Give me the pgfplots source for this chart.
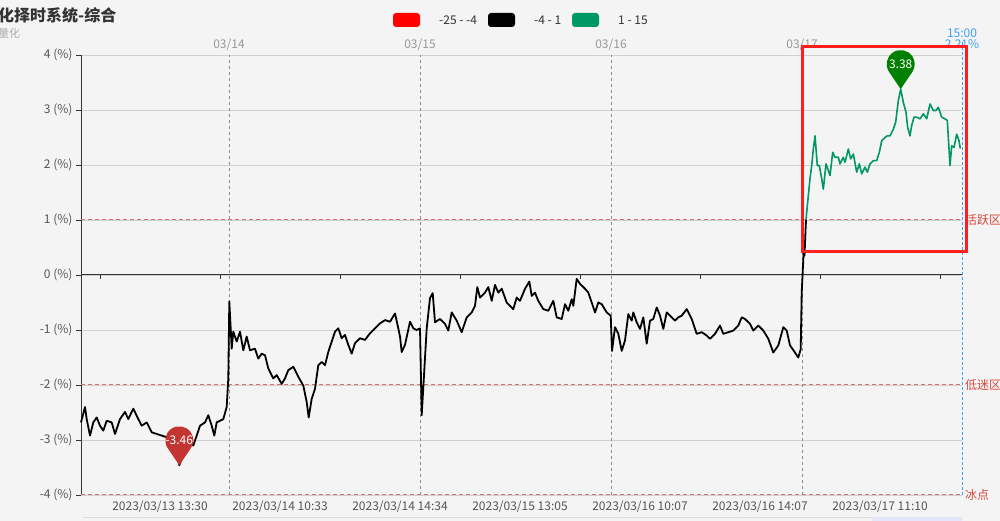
\documentclass[border=0pt]{standalone}
\usepackage{fontspec}
\setmainfont{Noto Sans CJK SC}
\usepackage{pgfplots}
\pgfplotsset{compat=1.18}
\definecolor{bg}{RGB}{244,244,244}
\definecolor{gridc}{RGB}{208,208,208}
\definecolor{axisc}{RGB}{51,51,51}
\definecolor{ticklab}{RGB}{85,85,85}
\definecolor{daylab}{RGB}{153,153,153}
\definecolor{dayline}{RGB}{140,140,140}
\definecolor{mline}{RGB}{222,110,110}
\definecolor{mtext}{RGB}{214,72,62}
\definecolor{greenline}{RGB}{0,150,102}
\definecolor{legendgreen}{RGB}{0,153,102}
\definecolor{pinred}{RGB}{194,53,49}
\definecolor{pingreen}{RGB}{0,128,0}
\definecolor{blueptr}{RGB}{64,158,255}
\definecolor{boxred}{RGB}{255,30,30}
\newcommand\fs[1]{\fontsize{#1}{#1}\selectfont}
\pgfdeclareplotmark{pin}{%
  \pgfpathmoveto{\pgfpointorigin}%
  \pgfpathlineto{\pgfpoint{-11.6pt}{17.15pt}}%
  \pgfpatharc{214.1}{-34.1}{14pt}%
  \pgfpathclose
  \pgfusepath{fill}}
\begin{document}
\begin{tikzpicture}[x=1pt,y=1pt]
\clip (0,0) rectangle (1000,521);
\fill[bg] (0,0) rectangle (1000,521);
% title
\node[anchor=base west, inner sep=0, text=axisc, font=\bfseries\fs{16}] at (-2,499) {化择时系统-综合};
\node[anchor=base west, inner sep=0, text=daylab!80, font=\fs{11}] at (-2,483) {量化};
% legend
\fill[red, rounded corners=3] (393,494) rectangle (420,508);
\node[anchor=west, inner sep=0, text=axisc, font=\fs{12}] at (439,501) {-25 - -4};
\fill[black, rounded corners=3] (488,494) rectangle (515,508);
\node[anchor=west, inner sep=0, text=axisc, font=\fs{12}] at (534,501) {-4 - 1};
\fill[legendgreen, rounded corners=3] (572,494) rectangle (599,508);
\node[anchor=west, inner sep=0, text=axisc, font=\fs{12}] at (618,501) {1 - 15};
% slider hint
\draw[gridc!70, line width=0.8] (83,4) -- (962,4);
\fill[gridc!60!blue!20] (872,0) rectangle (962,3.6);
\begin{axis}[
  at={(81pt,26pt)}, anchor=south west, scale only axis,
  width=881pt, height=440pt,
  xmin=81, xmax=962, ymin=-4, ymax=4,
  axis x line=none, axis y line*=left,
  y axis line style={-, draw=axisc, line width=1pt},
  ytick={-4,-3,-2,-1,0,1,2,3,4},
  yticklabels={-4 (\%),-3 (\%),-2 (\%),-1 (\%),0 (\%),1 (\%),2 (\%),3 (\%),4 (\%)},
  yticklabel style={font=\fs{12}, text=ticklab},
  ytick style={draw=axisc, line width=0.8pt},
  tick align=outside, major tick length=5pt, ytick pos=left,
  ymajorgrids, grid style={draw=gridc, line width=0.8pt},
  clip=false,
]
% day separators
\pgfplotsinvokeforeach{229,420,611,802}{
  \draw[dayline, dash pattern=on 3pt off 3pt, line width=0.8pt] (axis cs:#1,-4) -- (axis cs:#1,4);
}
% mark lines
\draw[mline, dash pattern=on 4pt off 3pt, line width=1pt] (axis cs:81,1) -- (axis cs:962,1);
\draw[mline, dash pattern=on 4pt off 3pt, line width=1pt] (axis cs:81,-2) -- (axis cs:962,-2);
\draw[mline, dash pattern=on 4pt off 3pt, line width=1pt] (axis cs:81,-4) -- (axis cs:962,-4);
\node[anchor=west, inner sep=0, text=mtext, font=\fs{12}] at (axis cs:965,1) {活跃区};
\node[anchor=west, inner sep=0, text=mtext, font=\fs{12}] at (axis cs:965,-2) {低迷区};
\node[anchor=west, inner sep=0, text=mtext, font=\fs{12}] at (axis cs:965,-4) {冰点};
% zero axis
\draw[axisc, line width=1pt] (axis cs:81,0) -- (axis cs:962,0);
\pgfplotsinvokeforeach{100,220,340,460,580,700,820,940}{
  \draw[axisc, line width=0.8pt] (axis cs:#1,0) -- ([yshift=-4.5pt]axis cs:#1,0);
}
% top day labels
\node[text=daylab, font=\fs{12}, inner sep=0] at (axis cs:229,4) [yshift=10pt] {03/14};
\node[text=daylab, font=\fs{12}, inner sep=0] at (axis cs:420,4) [yshift=10pt] {03/15};
\node[text=daylab, font=\fs{12}, inner sep=0] at (axis cs:611,4) [yshift=10pt] {03/16};
\node[text=daylab, font=\fs{12}, inner sep=0] at (axis cs:802,4) [yshift=10pt] {03/17};
% bottom labels
\node[text=ticklab, font=\fs{12}, inner sep=0] at (axis cs:160,-4) [yshift=-12pt] {2023/03/13 13:30};
\node[text=ticklab, font=\fs{12}, inner sep=0] at (axis cs:280,-4) [yshift=-12pt] {2023/03/14 10:33};
\node[text=ticklab, font=\fs{12}, inner sep=0] at (axis cs:400,-4) [yshift=-12pt] {2023/03/14 14:34};
\node[text=ticklab, font=\fs{12}, inner sep=0] at (axis cs:520,-4) [yshift=-12pt] {2023/03/15 13:05};
\node[text=ticklab, font=\fs{12}, inner sep=0] at (axis cs:640,-4) [yshift=-12pt] {2023/03/16 10:07};
\node[text=ticklab, font=\fs{12}, inner sep=0] at (axis cs:760,-4) [yshift=-12pt] {2023/03/16 14:07};
\node[text=ticklab, font=\fs{12}, inner sep=0] at (axis cs:880,-4) [yshift=-12pt] {2023/03/17 11:10};
% blue pointer
\draw[blueptr, dash pattern=on 3pt off 2pt, line width=1pt] (axis cs:962,-4) -- (axis cs:962,4) -- ([yshift=15pt]axis cs:962,4);
\node[text=blueptr, font=\fs{12}, inner sep=0] at (axis cs:962,4) [yshift=22pt] {15:00};
\node[text=blueptr, font=\fs{12}, inner sep=0] at (axis cs:962,4) [yshift=11pt] {2.21\%};
% black series
\addplot[black, line width=1.8pt, line join=round] coordinates {
(81,-2.68)(85,-2.40)(86.7,-2.62)(90,-2.92)(93.3,-2.68)(96.7,-2.59)(100,-2.74)(103.3,-2.83)
(106.7,-2.65)(111.7,-2.68)(115,-2.89)(120,-2.62)(125,-2.49)(128.3,-2.62)(133.3,-2.43)
(138.3,-2.62)(141.7,-2.74)(146.7,-2.68)(151.7,-2.86)(156.7,-2.89)(161.7,-2.92)(166.7,-2.95)
(171.7,-3.07)(176.7,-3.23)(179.3,-3.46)(183.3,-3.26)(188.3,-3.04)(193.3,-3.10)(196.7,-2.92)
(200,-2.74)(205,-2.68)(208.3,-2.55)(211.7,-2.74)(214.3,-2.92)(216.7,-2.68)(220,-2.65)
(223.3,-2.62)(226.7,-2.40)(228.3,-1.88)(229.3,-0.48)(230.7,-0.97)(231.7,-1.34)(233.3,-1.03)
(236.7,-1.21)(240,-1.03)(243.3,-1.37)(246.7,-1.12)(250,-1.37)(255,-1.34)(258.3,-1.52)
(261.7,-1.43)(265,-1.46)(268.3,-1.70)(273.3,-1.88)(276.7,-1.82)(281.7,-1.98)(285,-1.88)
(288.3,-1.73)(293.3,-1.67)(298.3,-1.85)(303.3,-2.01)(306.7,-2.31)(308.7,-2.59)(311.7,-2.25)
(315,-2.07)(318.3,-1.64)(321.7,-1.58)(325,-1.64)(328.3,-1.40)(331.7,-1.21)(335,-1.03)
(338.3,-0.97)(341.7,-1.15)(345,-1.09)(348.3,-1.27)(351.7,-1.43)(355,-1.24)(360,-1.15)
(365,-1.18)(370,-1.06)(373.3,-1.00)(376.7,-0.94)(380,-0.88)(385,-0.82)(390,-0.85)
(395,-0.70)(398.3,-0.97)(400,-1.12)(401.7,-1.40)(405,-1.27)(410,-0.85)(413.3,-0.97)
(416.7,-1.00)(420,-0.97)(421.7,-2.55)(426.7,-0.97)(430,-0.42)(432.7,-0.33)(435,-0.86)
(440,-0.80)(445,-0.89)(448.3,-1.01)(451.7,-0.68)(456.7,-0.83)(461.7,-1.04)(466.7,-0.77)
(471.7,-0.68)(475,-0.56)(477.3,-0.22)(480,-0.41)(485,-0.32)(488.3,-0.22)(491.7,-0.47)
(495,-0.18)(498.3,-0.32)(501.7,-0.25)(506.7,-0.50)(510,-0.56)(513.3,-0.62)(516.7,-0.41)
(520,-0.47)(525,-0.25)(529.3,-0.12)(531.7,-0.38)(535,-0.32)(538.3,-0.47)(543.3,-0.62)
(548.3,-0.65)(553.3,-0.47)(556.7,-0.77)(561.7,-0.80)(565,-0.53)(568.3,-0.65)(571.7,-0.44)
(573.3,-0.56)(576.7,-0.07)(580,-0.16)(585,-0.25)(588.3,-0.32)(591.7,-0.50)(595,-0.68)
(598.3,-0.50)(601.7,-0.53)(606.7,-0.68)(610.7,-0.74)(612,-1.38)(615,-0.95)(618.3,-1.07)
(621.7,-1.38)(625,-1.19)(628.3,-0.71)(631.7,-0.83)(633.3,-0.68)(636.7,-0.86)(640,-0.98)
(643.3,-0.77)(646.7,-1.25)(650,-0.83)(653.3,-0.80)(656.7,-0.59)(660,-0.74)(663.3,-0.98)
(666.7,-0.68)(671.7,-0.77)(675,-0.83)(678.3,-0.77)(681.7,-0.74)(686.7,-0.62)(691.7,-0.80)
(696.7,-1.07)(701.7,-1.04)(706.7,-1.10)(710,-1.16)(715,-1.07)(720,-0.92)(723.3,-1.07)
(728.3,-1.04)(733.3,-1.01)(738.3,-0.92)(741.7,-0.77)(745,-0.80)(750,-0.89)(753.3,-1.01)
(758.3,-0.92)(763.3,-1.01)(768.3,-1.16)(773.3,-1.41)(778.3,-1.28)(783.3,-0.95)(786.7,-1.01)
(790,-1.28)(795,-1.41)(798.3,-1.50)(800.7,-1.35)(801.7,-0.32)(803.3,0.29)(804,0.60)
(804.5,0.35)(805.5,0.80)(806,1.00)
};
% green series
\addplot[greenline, line width=1.6pt, line join=round] coordinates {
(806,1.00)(807.3,1.26)(810,1.75)(811.7,1.99)(813.3,2.29)(815,2.53)(817.3,1.99)(819.3,1.99)
(821.7,1.75)(823.3,1.56)(826,2.02)(828.3,1.90)(830,1.81)(832.7,2.23)(835,2.14)(838.3,2.14)
(840,2.02)(843.3,2.14)(845,2.05)(848.3,2.29)(850.7,2.11)(853.3,2.20)(856.7,1.87)(859.3,2.02)
(861.7,1.84)(865,1.96)(867.3,1.87)(870,2.02)(873.3,2.08)(876.7,2.08)(879.3,2.23)(881.7,2.44)
(885,2.50)(887.3,2.53)(890,2.53)(893.3,2.65)(895.7,2.78)(898.3,3.17)(900.7,3.38)(903.3,3.14)
(906,2.96)(907.7,2.68)(910,2.53)(911.7,2.72)(914,2.87)(916.7,2.87)(920,2.84)(923.3,2.93)
(926.7,2.84)(930,3.11)(933.3,2.99)(936,2.99)(938.3,3.05)(941.7,2.87)(945,2.84)(947.3,2.81)
(950,1.99)(951.7,2.35)(954,2.32)(956.7,2.56)(959,2.44)(960.3,2.30)
};
% pins
\addplot[only marks, mark=pin, mark options={fill=pinred, draw=none},
  nodes near coords, point meta=explicit symbolic,
  every node near coord/.append style={anchor=center, yshift=25pt, text=white, font=\fs{12}, inner sep=0}]
  coordinates {(179.3,-3.46) [-3.46]};
\addplot[only marks, mark=pin, mark options={fill=pingreen, draw=none},
  nodes near coords, point meta=explicit symbolic,
  every node near coord/.append style={anchor=center, yshift=25pt, text=white, font=\fs{12}, inner sep=0}]
  coordinates {(900.7,3.38) [3.38]};
\end{axis}
% highlight box
\draw[boxred, line width=3pt] (802.5,269.5) rectangle (966.5,474.5);
\end{tikzpicture}
\end{document}
